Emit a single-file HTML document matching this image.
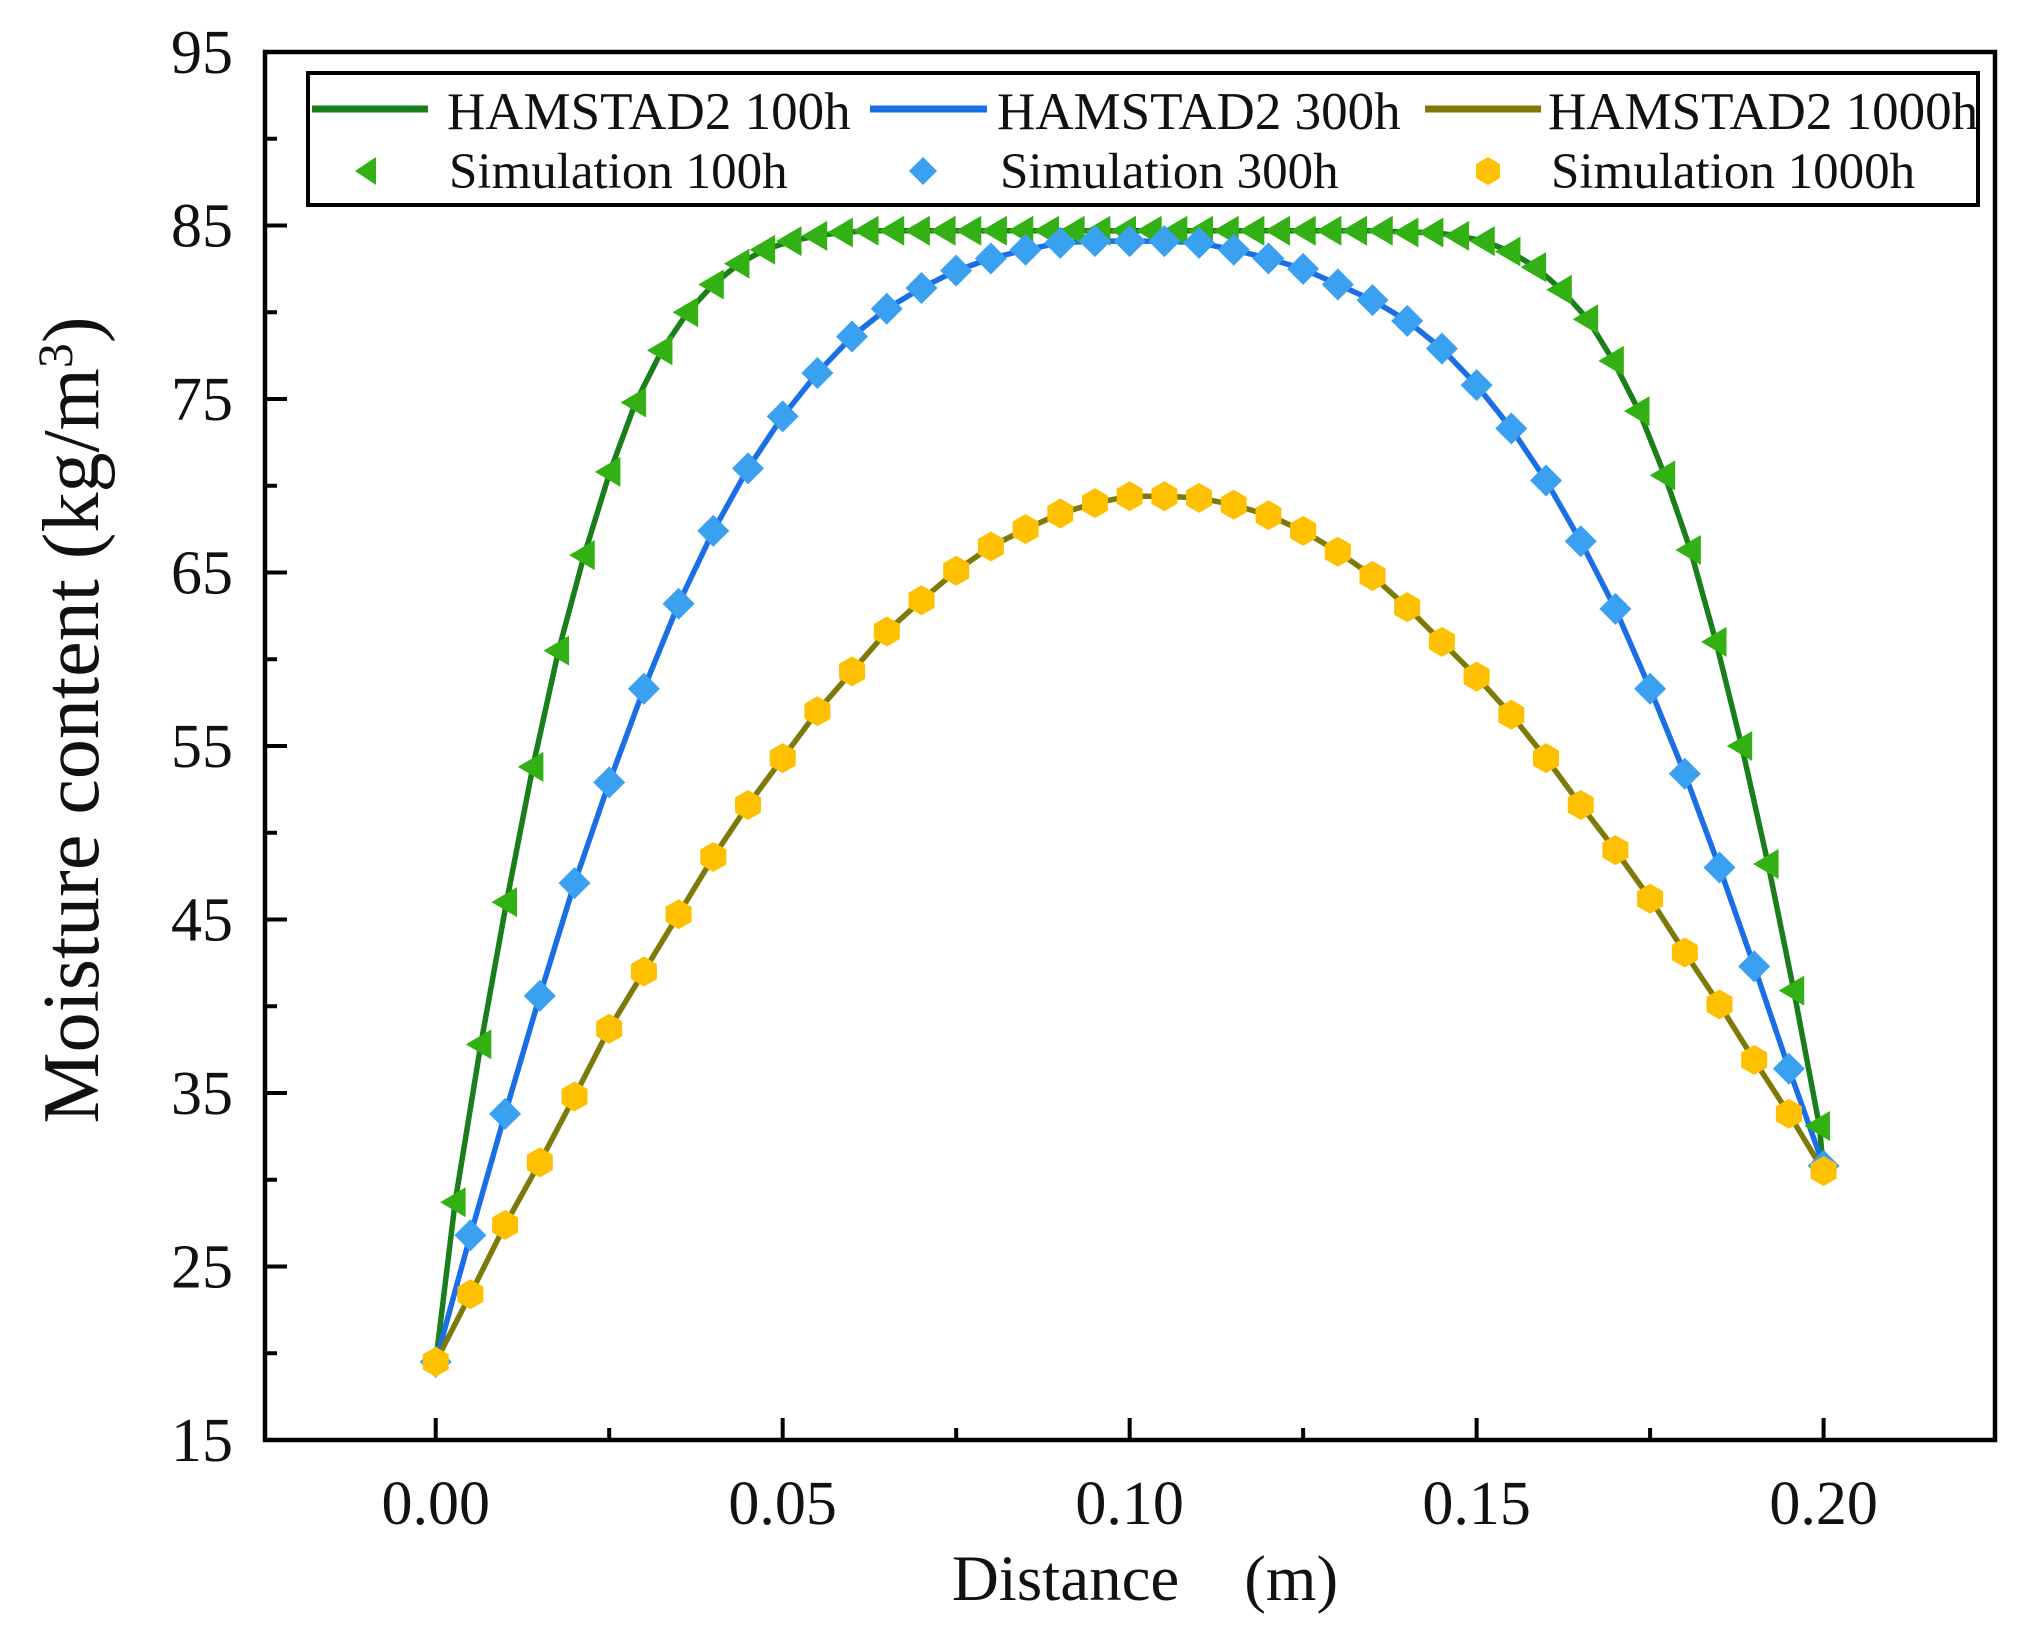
<!DOCTYPE html>
<html><head><meta charset="utf-8"><style>
body{margin:0;background:#fff}
svg{display:block}
text{font-family:"Liberation Serif",serif;fill:#111}
</style></head><body>
<svg id="chart" width="2031" height="1635" viewBox="0 0 2031 1635">
<g id="marks"></g>
<g id="axes"></g>
</svg>
<script>
const xTicks=[0,0.05,0.10,0.15,0.20];
const xTickLabels=["0.00","0.05","0.10","0.15","0.20"];
const yTicks=[15,25,35,45,55,65,75,85,95];
const yTickLabels=["15","25","35","45","55","65","75","85","95"];
const xStep=[0,0.005,0.01,0.015,0.02,0.025,0.03,0.035,0.04,0.045,0.05,0.055,0.06,0.065,0.07,0.075,0.08,0.085,0.09,0.095,0.1,0.105,0.11,0.115,0.12,0.125,0.13,0.135,0.14,0.145,0.15,0.155,0.16,0.165,0.17,0.175,0.18,0.185,0.19,0.195,0.2];
const y300=[19.5,26.8,33.8,40.6,47.1,52.9,58.3,63.2,67.4,71,74,76.5,78.6,80.2,81.4,82.4,83.1,83.6,84,84.1,84.1,84.1,84,83.6,83.1,82.5,81.6,80.7,79.5,77.9,75.8,73.3,70.3,66.8,62.9,58.3,53.4,48,42.3,36.4,30.8];
const y1000=[19.5,23.4,27.4,31,34.8,38.7,42,45.3,48.6,51.6,54.3,57,59.3,61.6,63.4,65.1,66.5,67.5,68.4,69,69.4,69.4,69.3,68.9,68.3,67.4,66.2,64.8,63,61,59,56.8,54.3,51.6,49,46.2,43.1,40.1,36.9,33.8,30.5];
const x100=[0,0.0028,0.0065,0.0102,0.0140,0.0177,0.0214,0.0251,0.0288,0.0326,0.0363,0.0400,0.0437,0.0474,0.0512,0.0549,0.0586,0.0623,0.0660,0.0697,0.0734,0.0771,0.0808,0.0846,0.0883,0.0920,0.0957,0.0994,0.1031,0.1068,0.1105,0.1142,0.1179,0.1216,0.1253,0.1290,0.1327,0.1364,0.1401,0.1437,0.1474,0.1511,0.1548,0.1585,0.1622,0.1660,0.1697,0.1734,0.1771,0.1808,0.1845,0.1882,0.1920,0.1957,0.1994,0.2];
const y100=[19.5,28.7,37.8,46,53.8,60.5,66,70.8,74.8,77.8,80,81.6,82.8,83.6,84.1,84.4,84.6,84.7,84.7,84.7,84.7,84.7,84.7,84.7,84.7,84.7,84.7,84.7,84.7,84.7,84.7,84.7,84.7,84.7,84.7,84.7,84.7,84.7,84.6,84.6,84.4,84.1,83.5,82.6,81.3,79.6,77.2,74.3,70.6,66.3,61,55,48.2,40.9,33.1,30.5];

const L=265,R=1995,T=52,B=1440;
const X0=-0.0246,X1=0.2247,Y0=15,Y1=95;
const sx=v=>L+(v-X0)/(X1-X0)*(R-L);
const sy=v=>B-(v-Y0)/(Y1-Y0)*(B-T);
const NS="http://www.w3.org/2000/svg";
function mk(tag,attrs,parent){const e=document.createElementNS(NS,tag);for(const k in attrs)e.setAttribute(k,attrs[k]);parent.appendChild(e);return e;}
const marks=document.getElementById('marks'),axes=document.getElementById('axes');

function line(xs,ys,color,name){
  const p=mk('polyline',{points:xs.map((x,i)=>sx(x).toFixed(1)+','+sy(ys[i]).toFixed(1)).join(' '),fill:'none',stroke:color,'stroke-width':5.5,'stroke-linejoin':'round'},marks);
  
  
}
function tri(cx,cy,s){return `M${cx-s},${cy} L${cx+s*0.7},${cy-s} L${cx+s*0.7},${cy+s} Z`;}
function diam(cx,cy,s){return `M${cx},${cy-s} L${cx+s},${cy} L${cx},${cy+s} L${cx-s},${cy} Z`;}
function hex(cx,cy,s){let d='';for(let i=0;i<6;i++){const a=Math.PI/6+i*Math.PI/3;d+=(i?'L':'M')+(cx+s*Math.cos(a)).toFixed(1)+','+(cy+s*Math.sin(a)).toFixed(1);}return d+'Z';}

line(x100,y100,'#1a7f1a','line-hamstad-100h');
line(xStep,y300,'#1a6fe6','line-hamstad-300h');
line(xStep,y1000,'#7d7a0a','line-hamstad-1000h');
for(let i=1;i<x100.length-1;i++){
  const m=mk('path',{d:tri(sx(x100[i]),sy(y100[i]),15),fill:'#33b014'},marks);
  
  
}
for(let i=0;i<xStep.length;i++){
  const m=mk('path',{d:diam(sx(xStep[i]),sy(y300[i]),16),fill:'#3aa0f0'},marks);
  
  
}
for(let i=0;i<xStep.length;i++){
  const m=mk('path',{d:hex(sx(xStep[i]),sy(y1000[i]),15),fill:'#ffc000'},marks);
  
  
}

const fr=mk('rect',{x:L,y:T,width:R-L,height:B-T,fill:'none',stroke:'#000','stroke-width':4.5},axes);


xTicks.forEach((v,i)=>{
  const t=mk('line',{x1:sx(v),x2:sx(v),y1:B,y2:B-22,stroke:'#000','stroke-width':4},axes);
  
  
  const lb=mk('text',{x:sx(v),y:B+84,'text-anchor':'middle','font-size':62},axes);
  lb.textContent=xTickLabels[i];
  
  
  if(i<xTicks.length-1){
    const mv=(v+xTicks[i+1])/2;
    const m=mk('line',{x1:sx(mv),x2:sx(mv),y1:B,y2:B-12,stroke:'#000','stroke-width':4},axes);
    
    
  }
});
yTicks.forEach((v,i)=>{
  const t=mk('line',{x1:L,x2:L+22,y1:sy(v),y2:sy(v),stroke:'#000','stroke-width':4},axes);
  
  
  const lb=mk('text',{x:L-32,y:sy(v)+21,'text-anchor':'end','font-size':62},axes);
  lb.textContent=yTickLabels[i];
  
  
  if(i<yTicks.length-1){
    const mv=(v+yTicks[i+1])/2;
    const m=mk('line',{x1:L,x2:L+12,y1:sy(mv),y2:sy(mv),stroke:'#000','stroke-width':4},axes);
    
    
  }
});
</script>
<svg width="2031" height="1635" style="position:absolute;left:0;top:0">
<text x="1145" y="1600" text-anchor="middle" font-size="65">Distance　(m)</text>
<text transform="translate(98,720) rotate(-90)" text-anchor="middle" font-size="80">Moisture content (kg/m<tspan dy="-26" font-size="50">3</tspan><tspan dy="26">)</tspan></text>
<g>
<rect x="308" y="73" width="1670" height="132" fill="#fff" stroke="#000" stroke-width="4"/>
<line x1="312" y1="109" x2="428" y2="109" stroke="#1a7f1a" stroke-width="7"/>
<text x="447" y="129" font-size="53">HAMSTAD2 100h</text>
<line x1="870" y1="109" x2="987" y2="109" stroke="#1a6fe6" stroke-width="7"/>
<text x="997" y="129" font-size="53">HAMSTAD2 300h</text>
<line x1="1425" y1="109" x2="1541" y2="109" stroke="#7d7a0a" stroke-width="7"/>
<text x="1548" y="129" font-size="53">HAMSTAD2 1000h</text>
<path d="M355,171 L376,157 L376,185 Z" fill="#33b014"/>
<text x="449" y="188" font-size="51">Simulation 100h</text>
<path d="M923,157 L937,171 L923,185 L909,171 Z" fill="#3aa0f0"/>
<text x="1000" y="188" font-size="51">Simulation 300h</text>
<path d="M1488,157 L1500,164 L1500,178 L1488,185 L1476,178 L1476,164 Z" fill="#ffc000"/>
<text x="1551" y="188" font-size="51">Simulation 1000h</text>
</g>
</svg>
</body></html>
